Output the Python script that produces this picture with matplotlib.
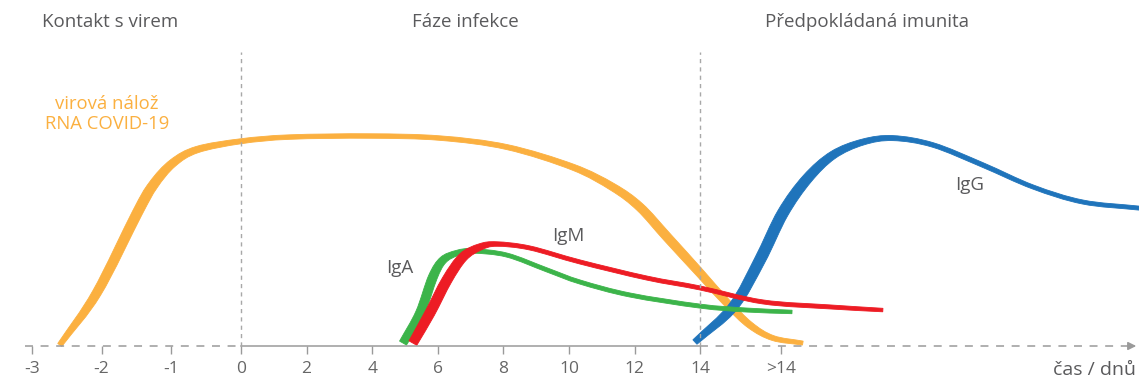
import matplotlib
matplotlib.use('Agg')
import matplotlib.pyplot as plt
from matplotlib.path import Path
from matplotlib.patches import PathPatch
from matplotlib.transforms import IdentityTransform
import numpy as np

plt.rcParams['font.family'] = ['Open Sans', 'DejaVu Sans']

# time axis: days (negative part is drawn stretched)
tick_pos = [-3, -2, -1, 0, 2, 4, 6, 8, 10, 12, 14, 16.46]
tick_lab = ['-3', '-2', '-1', '0', '2', '4', '6', '8', '10', '12', '14', '>14']

# relative level (IgG peak ~ 100)
virus_x = [-2.60, -2.07, -1.49, -1.26, -0.98, -0.63, 0.0, 1.49, 3.93,
           6.07, 8.11, 10.12, 11.34, 12.16, 12.99, 13.99, 14.82, 15.52, 16.22, 17.13]
virus_y = [0.5, 25.4, 63.6, 77.0, 87.5, 94.0, 98.0, 100.0, 100.5,
           99.5, 95.2, 85.6, 76.0, 66.5, 52.2, 35.0, 20.6, 10.0, 3.8, 1.4]

igg_x = [13.84, 15.0, 15.82, 16.52, 17.26, 18.05, 18.96, 19.88, 21.10, 22.62, 24.15, 25.67, 27.38]
igg_y = [1.9, 18.7, 41.1, 63.6, 80.0, 91.4, 97.6, 99.5, 96.2, 86.6, 76.1, 68.9, 66.0]

iga_x = [4.94, 5.46, 5.85, 6.16, 6.59, 7.07, 8.11, 9.33, 10.34, 11.86, 13.99, 15.43, 16.80]
iga_y = [1.4, 15.8, 33.0, 41.1, 44.5, 45.5, 43.5, 36.4, 30.6, 24.4, 19.1, 17.2, 16.3]

igm_x = [5.24, 5.76, 6.28, 6.77, 7.29, 7.80, 8.81, 10.34, 12.38, 13.99, 15.91, 17.96, 19.57]
igm_y = [1.4, 15.8, 31.6, 42.6, 47.4, 48.8, 46.9, 40.2, 32.5, 27.8, 21.1, 18.7, 17.2]

# stroke widths (px) along each curve
virus_w = [5, 9, 10, 9.5, 8, 6.5, 5, 4.5, 4.5, 4.5, 5, 6, 7.5, 8.5, 9, 8.5, 7.5, 6.5, 5, 4]
igg_w = [6, 9.5, 11, 11, 10, 8, 6, 5, 4.5, 4.5, 4, 4, 4]
iga_w = [8, 9, 9, 7.5, 5.5, 4.5, 4, 4, 4, 4, 4, 4, 3.5]
igm_w = [9, 10, 10, 9, 6.5, 4.5, 4, 4, 4, 4, 4, 4, 3.5]

ORANGE = '#FBB040'
BLUE = '#1F74BB'
GREEN = '#3CB44A'
RED = '#ED1C24'
GREY = '#5A5A5C'
AXIS = '#9A9A9A'

STRETCH = 2.125


def fwd(x):
    x = np.asarray(x, dtype=float)
    return np.where(x < 0, x * STRETCH, x)


def inv(u):
    u = np.asarray(u, dtype=float)
    return np.where(u < 0, u / STRETCH, u)


def tangents(P):
    T = np.empty_like(P)
    T[1:-1] = (P[2:] - P[:-2]) / 2
    T[0] = P[1] - P[0]
    T[-1] = P[-1] - P[-2]
    return T


def draw_band(ax, xs, ys, widths, color):
    # smooth stroke of varying width: bezier outline through the read points
    P = ax.transData.transform(np.column_stack([xs, ys]))
    T = tangents(P)
    n = np.column_stack([-T[:, 1], T[:, 0]])
    n /= np.linalg.norm(n, axis=1)[:, None]
    half = np.asarray(widths, dtype=float)[:, None] / 2
    U = P + n * half
    L = P - n * half
    TU = tangents(U)
    TL = tangents(L)
    verts = [U[0]]
    codes = [Path.MOVETO]
    for i in range(len(P) - 1):
        verts += [U[i] + TU[i] / 3, U[i + 1] - TU[i + 1] / 3, U[i + 1]]
        codes += [Path.CURVE4] * 3
    verts.append(L[-1])
    codes.append(Path.LINETO)
    for i in range(len(P) - 1, 0, -1):
        verts += [L[i] - TL[i] / 3, L[i - 1] + TL[i - 1] / 3, L[i - 1]]
        codes += [Path.CURVE4] * 3
    verts.append(U[0])
    codes.append(Path.CLOSEPOLY)
    patch = PathPatch(Path(verts, codes), facecolor=color, edgecolor=color,
                      lw=0.6, transform=IdentityTransform(), clip_on=False)
    ax.add_artist(patch)


fig = plt.figure(figsize=(11.39, 3.8), dpi=100)
ax = fig.add_axes([0, 34 / 380, 1, 346 / 380])
ax.set_xscale('function', functions=(fwd, inv))
ax.set_xlim(-3.458, 27.38)
ax.set_ylim(0, 165.6)

for s in ax.spines.values():
    s.set_visible(False)
ax.yaxis.set_visible(False)
ax.set_xticks(tick_pos)
ax.set_xticklabels(tick_lab)
ax.tick_params(axis='x', length=6, width=1, color=AXIS, labelcolor='#666666',
               labelsize=12.5, pad=5)

# axis line: dashed / solid / dashed with arrow
ax.plot([-3.1, 0], [0, 0], color=AXIS, lw=1.1, dashes=(5.2, 5.0), clip_on=False)
ax.plot([0, 14], [0, 0], color=AXIS, lw=1.1, clip_on=False)
ax.plot([14, 27.1], [0, 0], color=AXIS, lw=1.1, dashes=(5.2, 5.0), clip_on=False)
ax.annotate('', xy=(1.0, 0), xycoords=('axes fraction', 'data'),
            xytext=(0.99, 0), textcoords=('axes fraction', 'data'),
            arrowprops=dict(arrowstyle='-|>', color=AXIS, lw=1.1,
                            mutation_scale=12), annotation_clip=False)

# phase separators
for xv in [0, 14]:
    ax.plot([xv, xv], [0, 140.7], color='#A8A8A8', lw=1, dashes=(3, 3))

draw_band(ax, virus_x, virus_y, virus_w, ORANGE)
draw_band(ax, igg_x, igg_y, igg_w, BLUE)
draw_band(ax, iga_x, iga_y, iga_w, GREEN)
draw_band(ax, igm_x, igm_y, igm_w, RED)

# headings
head_kw = dict(color=GREY, fontsize=13.5, ha='center', va='center')
ax.text(-1.88, 155, 'Kontakt s virem', **head_kw)
ax.text(6.83, 155, 'Fáze infekce', **head_kw)
ax.text(19.09, 155, 'Předpokládaná imunita', **head_kw)

ax.text(-1.92, 111, 'virová nálož\nRNA COVID-19', color=ORANGE, fontsize=13.3,
        ha='center', va='center', linespacing=1.2)
ax.text(4.85, 37.3, 'IgA', color=GREY, fontsize=13.5, ha='center', va='center')
ax.text(9.97, 52.6, 'IgM', color=GREY, fontsize=13.5, ha='center', va='center')
ax.text(22.23, 77.0, 'IgG', color=GREY, fontsize=13.5, ha='center', va='center')

fig.text(0.997, 1 - 370 / 380, 'čas / dnů', color=GREY, fontsize=14,
         ha='right', va='center')

fig.savefig('out.png', dpi=100)
